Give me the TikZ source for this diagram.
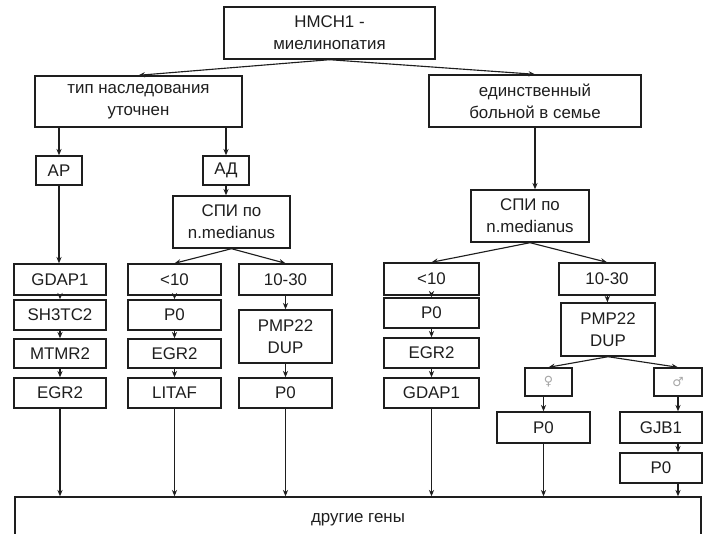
\documentclass[tikz,border=0pt]{standalone}
\usepackage{fontspec}
\setmainfont{Liberation Sans}
\newfontfamily\symfont{DejaVu Sans}
\usetikzlibrary{arrows.meta}
\definecolor{ink}{HTML}{1E1E1E}

\begin{document}
\begin{tikzpicture}[x=0.025cm, y=-0.025cm, >={Stealth[length=1.6mm, width=1.3mm]},
  box/.style 2 args={draw=ink, line width=1pt, text=ink, inner sep=0pt,
              minimum width=#1*0.025cm, minimum height=#2*0.025cm,
              align=center, font=\fontsize{12}{15.5}\selectfont},
  link/.style={->, ink, line width=0.8pt}]

% Frame
\useasboundingbox (0,0) rectangle (704,533);
\clip (0,0) rectangle (704,533);

% Top levels
\node[box={211}{52}] (nmsn) at (329.5,33) {НМСН1 -\\миелинопатия};
\node[box={207}{51}] (known) at (138.5,101.5) {тип наследования\\уточнен};
\node[box={212}{52}] (single) at (535,101) {единственный\\больной в семье};
\node[box={46}{29}] (ar) at (59,170.5) {АР};
\node[box={46}{29}] (ad) at (226,170.5) {АД};
\node[box={117}{52}] (spiL) at (231.5,222) {СПИ по\\n.medianus};
\node[box={118}{52}] (spiR) at (530,216) {СПИ по\\n.medianus};

% AR column
\node[box={92}{31}] (gdapA) at (60,279.5) {GDAP1};
\node[box={92}{30}] (sh3A) at (60,315) {SH3TC2};
\node[box={92}{29}] (mtmrA) at (60,353.5) {MTMR2};
\node[box={92}{30}] (egrA) at (60,393) {EGR2};

% AD, <10
\node[box={93}{31}] (ltL) at (174.5,279.5) {<10};
\node[box={93}{30}] (p0B) at (174.5,315) {P0};
\node[box={93}{29}] (egrB) at (174.5,353.5) {EGR2};
\node[box={93}{30}] (litafB) at (174.5,393) {LITAF};

% AD, 10-30
\node[box={93}{31}] (gtL) at (285.5,279.5) {10-30};
\node[box={93}{53}] (pmpL) at (285.5,336.5) {PMP22\\DUP};
\node[box={93}{30}] (p0C) at (285.5,393) {P0};

% single, <10
\node[box={95}{32}] (ltR) at (431.5,279) {<10};
\node[box={95}{30}] (p0D) at (431.5,313) {P0};
\node[box={95}{30}] (egrD) at (431.5,353) {EGR2};
\node[box={95}{30}] (gdapD) at (431.5,393) {GDAP1};

% single, 10-30
\node[box={96}{32}] (gtR) at (607,279) {10-30};
\node[box={94}{53}] (pmpR) at (608,329.5) {PMP22\\DUP};
\node[box={47}{28}, text=gray!70, font=\symfont\fontsize{9}{10}\selectfont] (fem) at (548.5,382) {♀};
\node[box={48}{28}, text=gray!70, font=\symfont\fontsize{9}{10}\selectfont] (male) at (678,382) {♂};
\node[box={93}{31}] (p0F) at (543.5,427.5) {P0};
\node[box={82}{31}] (gjb) at (661,427.5) {GJB1};
\node[box={82}{30}] (p0G) at (661,468) {P0};

\node[box={686}{46}] (other) at (358,520) {другие гены};

% Connectors
\draw[link] (nmsn.south) -- (known.north);
\draw[link] (nmsn.south) -- (single.north);
\draw[link] (known.south -| ar) -- (ar);
\draw[link] (known.south -| ad) -- (ad);
\draw[link] (ad) -- (ad |- spiL.north);
\draw[link] (single) -- (single.south |- spiR.north);
\draw[link] (ar) -- (ar |- gdapA.north);
\draw[link] (spiL.south) -- (ltL.north);
\draw[link] (spiL.south) -- (gtL.north);
\draw[link] (spiR.south) -- (ltR.north);
\draw[link] (spiR.south) -- (gtR.north);
\draw[link] (pmpR.south) -- (fem.north);
\draw[link] (pmpR.south) -- (male.north);
\foreach \a/\b in {gdapA/sh3A, sh3A/mtmrA, mtmrA/egrA,
                   ltL/p0B, p0B/egrB, egrB/litafB,
                   gtL/pmpL, pmpL/p0C,
                   ltR/p0D, p0D/egrD, egrD/gdapD, gtR/pmpR}
  \draw[link] (\a) -- (\b);
\draw[link] (p0F.north |- fem.south) -- (p0F);
\draw[link] (male) -- (male |- gjb.north);
\draw[link] (gjb.south -| male) -- (p0G.north -| male);
\draw[link] (p0G.south -| male) -- (other.north -| male);
\foreach \n in {egrA, litafB, p0C, gdapD, p0F}
  \draw[link] (\n) -- (\n |- other.north);

\end{tikzpicture}
\end{document}
